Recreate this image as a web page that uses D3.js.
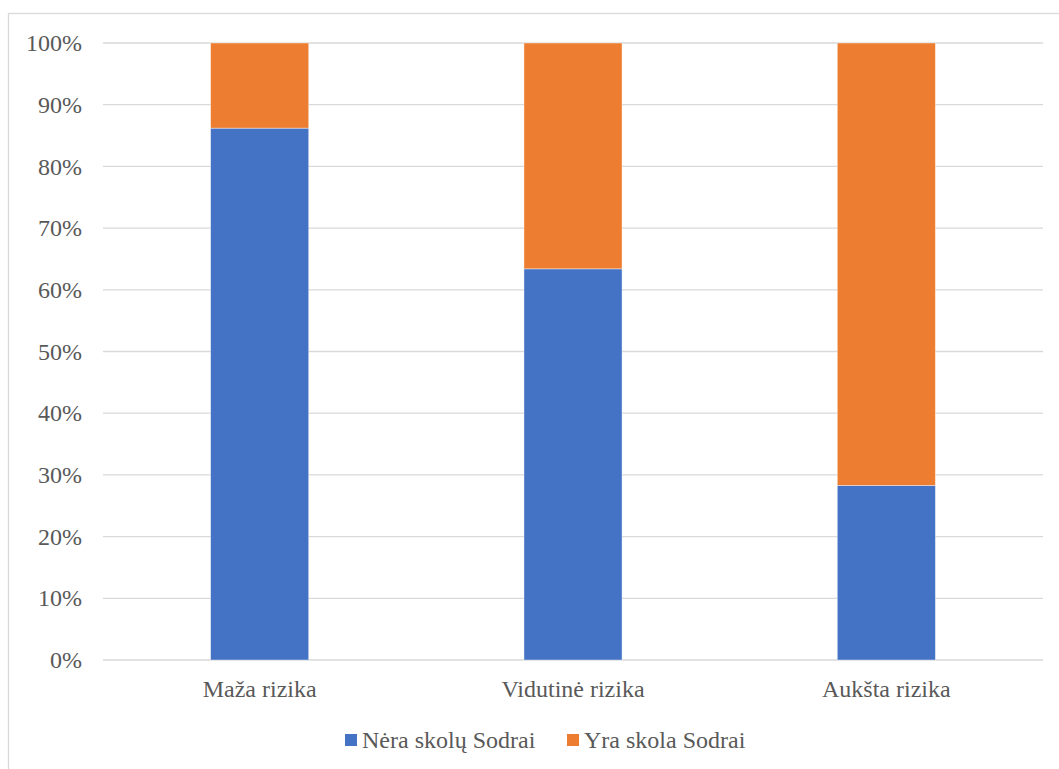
<!DOCTYPE html>
<html>
<head>
<meta charset="utf-8">
<script src="https://cdn.jsdelivr.net/npm/d3@7"></script>
<style>
  html, body { margin: 0; padding: 0; background: #fff; }
  svg { display: block; }
  svg text { font-family: "Times New Roman", "Liberation Serif", Tinos, "DejaVu Serif", serif !important; }
</style>
</head>
<body>
<svg id="chart" width="1059" height="769"></svg>
<script>
// Risk groups and the share of companies with / without debt to Sodra
const categories = ["Maža rizika", "Vidutinė rizika", "Aukšta rizika"];
const seriesNames = ["Nėra skolų Sodrai", "Yra skola Sodrai"];
const noDebt = [0.862, 0.634, 0.283];
const hasDebt = [0.138, 0.366, 0.717];
const seriesColors = ["#4472C4", "#ED7D31"];
const yTicks = [0, 0.1, 0.2, 0.3, 0.4, 0.5, 0.6, 0.7, 0.8, 0.9, 1.0];

const svg = d3.select("#chart");
const W = 1059, H = 769;
const margin = { left: 103, right: 16, top: 43, bottom: 109 };
const plotW = W - margin.left - margin.right;
const plotH = H - margin.top - margin.bottom;

// Outer chart frame
svg.append("rect")
  .attr("x", 8.5).attr("y", 13.5)
  .attr("width", W + 10).attr("height", H + 10)
  .attr("fill", "#fff").attr("stroke", "#d9d9d9").attr("stroke-width", 1.3);

const rows = categories.map((c, i) => ({ cat: c, [seriesNames[0]]: noDebt[i], [seriesNames[1]]: hasDebt[i] }));
const stacked = d3.stack().keys(seriesNames)(rows);

const x = d3.scaleBand().domain(categories).range([0, plotW]).padding(0);
const y = d3.scaleLinear().domain([0, 1]).range([plotH, 0]);
const barW = x.bandwidth() * 0.313;

const g = svg.append("g").attr("transform", `translate(${margin.left},${margin.top})`);

// Horizontal gridlines
g.append("g").selectAll("line").data(yTicks).join("line")
  .attr("x1", 0).attr("x2", plotW)
  .attr("y1", d => y(d)).attr("y2", d => y(d))
  .attr("stroke", "#d9d9d9").attr("stroke-width", 1.3);

// Y axis labels
const yAxis = d3.axisLeft(y).tickValues(yTicks).tickFormat(d3.format(".0%")).tickSize(0).tickPadding(21);
const ya = g.append("g").call(yAxis).attr("font-family", null);
ya.select(".domain").remove();
ya.selectAll("text").attr("font-size", 24).attr("fill", "#595959");

// Stacked bars
g.append("g").selectAll("g").data(stacked).join("g")
  .attr("fill", (d, i) => seriesColors[i])
  .selectAll("rect").data(d => d).join("rect")
  .attr("x", d => x(d.data.cat) + (x.bandwidth() - barW) / 2)
  .attr("width", barW)
  .attr("y", d => y(d[1]))
  .attr("height", d => y(d[0]) - y(d[1]))
  .attr("stroke", "#ffffff").attr("stroke-width", 0.8).attr("stroke-opacity", 0.5);

// X axis labels
const xAxis = d3.axisBottom(x).tickSize(0).tickPadding(20);
const xa = g.append("g").attr("transform", `translate(0,${plotH})`).call(xAxis).attr("font-family", null);
xa.select(".domain").remove();
xa.selectAll("text").attr("font-size", 24).attr("fill", "#595959");

// Legend
const legend = svg.append("g").attr("transform", "translate(345,740)");
const legendX = [0, 222];
seriesNames.forEach((name, i) => {
  const item = legend.append("g").attr("transform", `translate(${legendX[i]},0)`);
  item.append("rect").attr("x", 0).attr("y", -6).attr("width", 12).attr("height", 12)
    .attr("fill", seriesColors[i]);
  item.append("text").attr("x", 17).attr("y", 8)
    .attr("font-size", 24).attr("fill", "#595959").text(name);
});
</script>
</body>
</html>
